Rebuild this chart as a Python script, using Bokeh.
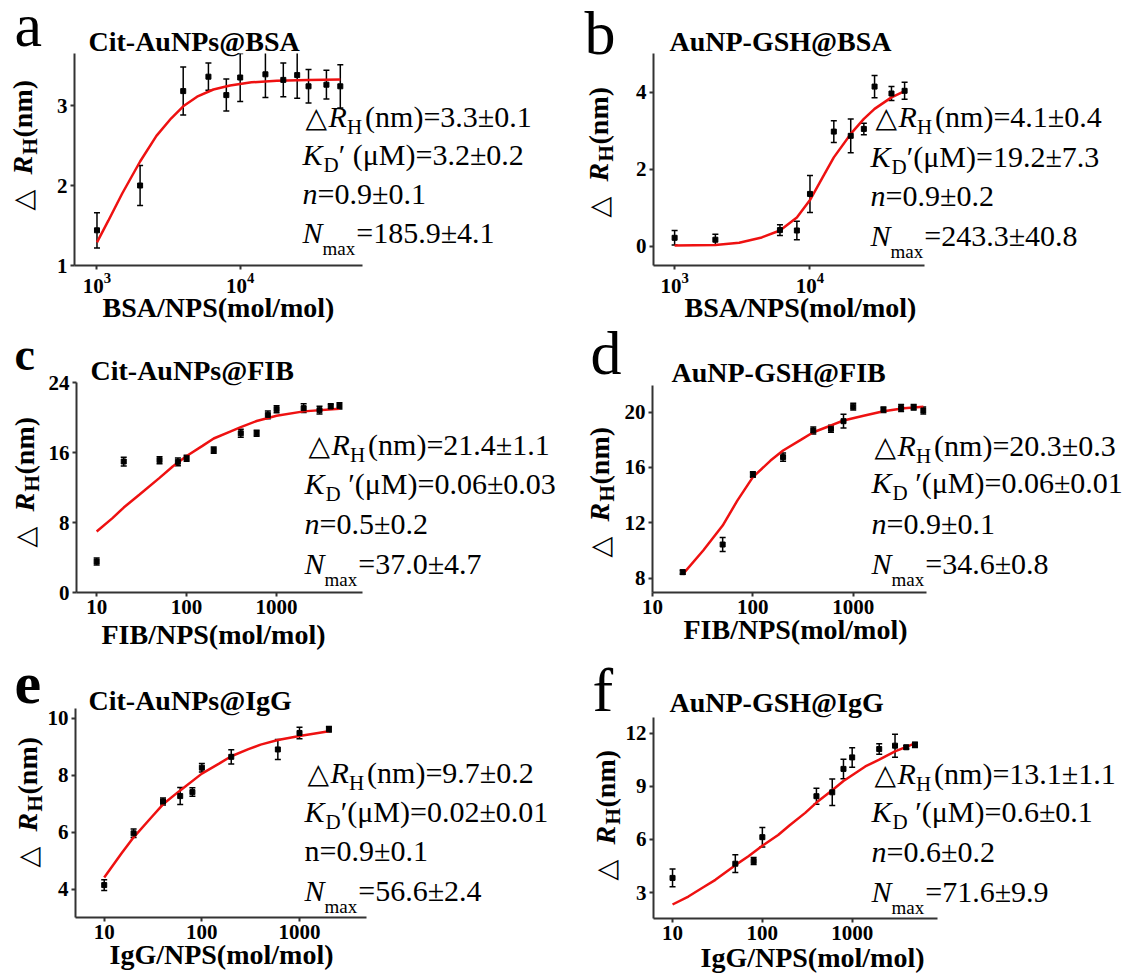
import math
from bokeh.plotting import figure
from bokeh.models import Range1d, FixedTicker, Label, Whisker, TeeHead, ColumnDataSource
from bokeh.layouts import column
from bokeh.embed import file_html
from bokeh.resources import INLINE

SERIF = "Liberation Serif"
SYM = "DejaVu Sans"

# ---------------- data ----------------
letters = ["a", "b", "c", "d", "e", "f"]
titles = ["Cit-AuNPs@BSA", "AuNP-GSH@BSA", "Cit-AuNPs@FIB",
          "AuNP-GSH@FIB", "Cit-AuNPs@IgG", "AuNP-GSH@IgG"]
x_titles = ["BSA/NPS(mol/mol)", "BSA/NPS(mol/mol)", "FIB/NPS(mol/mol)",
            "FIB/NPS(mol/mol)", "IgG/NPS(mol/mol)", "IgG/NPS(mol/mol)"]

rh_text = ["(nm)=3.3±0.1", "(nm)=4.1±0.4", "(nm)=21.4±1.1",
           "(nm)=20.3±0.3", "(nm)=9.7±0.2", "(nm)=13.1±1.1"]
kd_text = ["′ (μM)=3.2±0.2", "′(μM)=19.2±7.3", "\u00a0′(μM)=0.06±0.03",
           "\u00a0′(μM)=0.06±0.01", "′(μM)=0.02±0.01", "\u00a0′(μM)=0.6±0.1"]
n_text = ["=0.9±0.1", "=0.9±0.2", "=0.5±0.2", "=0.9±0.1", "=0.9±0.1", "=0.6±0.2"]
n_italic = [True, True, True, True, False, True]
nmax_text = ["=185.9±4.1", "=243.3±40.8", "=37.0±4.7", "=34.6±0.8", "=56.6±2.4", "=71.6±9.9"]

# panel a: Cit-AuNPs@BSA
a_x = [1000, 2000, 4000, 6000, 8000, 10000, 15000, 20000, 25000, 30000, 40000, 50000]
a_y = [1.44, 2.00, 3.18, 3.36, 3.13, 3.35, 3.39, 3.32, 3.38, 3.24, 3.26, 3.24]
a_err = [0.22, 0.25, 0.30, 0.17, 0.20, 0.30, 0.29, 0.21, 0.29, 0.21, 0.18, 0.27]
a_fit_x = [1000, 1200, 1500, 2000, 2600, 3300, 4000, 5000, 6500, 8500, 12000, 18000, 30000, 50000]
a_fit_y = [1.29, 1.56, 1.90, 2.30, 2.62, 2.84, 2.99, 3.11, 3.20, 3.25, 3.29, 3.31, 3.32, 3.325]

# panel b: AuNP-GSH@BSA
b_x = [1000, 2000, 6000, 8000, 10000, 15000, 20000, 25000, 30000, 40000, 50000]
b_y = [0.22, 0.17, 0.42, 0.41, 1.36, 2.98, 2.87, 3.05, 4.15, 3.97, 4.04]
b_err = [0.19, 0.14, 0.14, 0.24, 0.48, 0.28, 0.44, 0.15, 0.29, 0.18, 0.22]
b_fit_x = [1000, 2000, 3000, 4400, 6000, 8000, 10000, 12400, 15000, 20000, 25000, 30000, 40000, 50000]
b_fit_y = [0.02, 0.035, 0.09, 0.23, 0.41, 0.75, 1.20, 1.79, 2.31, 2.92, 3.31, 3.57, 3.87, 4.03]

# panel c: Cit-AuNPs@FIB
c_x = [10, 20, 50, 80, 100, 200, 400, 600, 800, 1000, 2000, 3000, 4000, 5000]
c_y = [3.54, 14.97, 15.12, 14.93, 15.35, 16.27, 18.2, 18.2, 20.3, 20.95, 21.07, 20.84, 21.26, 21.33]
c_err = [0.4, 0.5, 0.4, 0.45, 0.35, 0.35, 0.45, 0.35, 0.45, 0.4, 0.5, 0.45, 0.3, 0.35]
c_fit_x = [10, 15, 20, 30, 50, 70, 100, 150, 200, 300, 400, 600, 1000, 2000, 5000]
c_fit_y = [6.97, 8.5, 9.71, 11.2, 13.1, 14.4, 15.6, 16.76, 17.6, 18.36, 18.9, 19.6, 20.2, 20.7, 21.0]

# panel d: AuNP-GSH@FIB
d_x = [20, 50, 100, 200, 400, 600, 800, 1000, 2000, 3000, 4000, 5000]
d_y = [8.43, 10.43, 15.49, 16.75, 18.67, 18.8, 19.35, 20.4, 20.17, 20.3, 20.36, 20.12]
d_err = [0.15, 0.5, 0.2, 0.3, 0.25, 0.25, 0.5, 0.25, 0.2, 0.25, 0.2, 0.25]
d_fit_x = [20, 32, 50, 70, 100, 150, 200, 300, 400, 600, 800, 1300, 2000, 3200, 5000]
d_fit_y = [8.27, 10.0, 11.8, 13.6, 15.3, 16.5, 17.23, 18.0, 18.55, 19.04, 19.4, 19.76, 20.07, 20.29, 20.4]

# panel e: Cit-AuNPs@IgG
e_x = [10, 20, 40, 60, 80, 100, 200, 600, 1000, 2000]
e_y = [4.14, 5.96, 7.08, 7.27, 7.41, 8.27, 8.65, 8.91, 9.49, 9.62]
e_err = [0.19, 0.15, 0.12, 0.3, 0.15, 0.15, 0.25, 0.35, 0.2, 0.1]
e_fit_x = [10, 15, 20, 30, 40, 60, 100, 150, 200, 300, 400, 600, 1000, 2000]
e_fit_y = [4.41, 5.25, 5.82, 6.50, 6.98, 7.47, 8.06, 8.41, 8.67, 8.92, 9.08, 9.24, 9.38, 9.55]

# panel f: AuNP-GSH@IgG
f_x = [10, 50, 80, 100, 400, 600, 800, 1000, 2000, 3000, 4000, 5000]
f_y = [3.83, 4.63, 4.78, 6.13, 8.44, 8.66, 9.98, 10.63, 11.1, 11.29, 11.2, 11.34]
f_err = [0.5, 0.5, 0.2, 0.55, 0.45, 0.75, 0.55, 0.55, 0.3, 0.65, 0.1, 0.15]
f_fit_x = [10, 15, 22, 30, 50, 70, 100, 150, 200, 300, 400, 600, 800, 1400, 2000, 3000, 5000]
f_fit_y = [2.33, 2.78, 3.30, 3.72, 4.55, 5.05, 5.64, 6.25, 6.79, 7.50, 8.08, 8.78, 9.30, 10.12, 10.50, 10.97, 11.42]

series = [(a_x, a_y, a_err, a_fit_x, a_fit_y), (b_x, b_y, b_err, b_fit_x, b_fit_y),
          (c_x, c_y, c_err, c_fit_x, c_fit_y), (d_x, d_y, d_err, d_fit_x, d_fit_y),
          (e_x, e_y, e_err, e_fit_x, e_fit_y), (f_x, f_y, f_err, f_fit_x, f_fit_y)]

x_ticks = [[1000, 10000], [1000, 10000], [10, 100, 1000], [10, 100, 1000], [10, 100, 1000], [10, 100, 1000]]
y_ticks = [[1, 2, 3], [0, 2, 4], [0, 8, 16, 24], [8, 12, 16, 20], [4, 6, 8, 10], [3, 6, 9, 12]]

# ---------------- layout (page pixel positions) ----------------
PAGE_W, PAGE_H = 1124, 974
BASE_K = 0.41   # baseline correction (fraction of font size)

CFG = [
    dict(frame=(74, 362, 53, 265), xr=(2.843, 4.854), yr=(1.0, 3.65), expo=True,
         letter=(14, 50, 62, "normal"), title=(88, 52), xtitle=(218, 318), ytitle=(33, 210),
         block=(305, 302, [128, 166, 205, 244])),
    dict(frame=(653, 924, 53, 265), xr=(2.844, 4.846), yr=(-0.5, 5.01), expo=True,
         letter=(584, 58, 62, "normal"), title=(669, 52), xtitle=(800, 318), ytitle=(609, 217),
         block=(875, 870, [128, 168, 207, 247])),
    dict(frame=(76, 362, 382, 592), xr=(0.776, 3.955), yr=(0.0, 24.0), expo=False,
         letter=(14, 373, 46, "bold"), title=(90, 381), xtitle=(213, 645), ytitle=(35, 547),
         block=(308, 304, [456, 495, 535, 575])),
    dict(frame=(652, 926, 385, 592), xr=(1.0, 3.73), yr=(6.96, 21.93), expo=False,
         letter=(590, 378, 62, "normal"), title=(671, 383), xtitle=(795, 640), ytitle=(610, 557),
         block=(874, 871, [457, 494, 535, 575])),
    dict(frame=(75, 366, 708, 917), xr=(0.706, 3.686), yr=(3.0, 10.35), expo=False,
         letter=(14, 708, 60, "bold"), title=(88, 711), xtitle=(221, 965), ytitle=(38, 867),
         block=(307, 304, [784, 823, 862, 902])),
    dict(frame=(653, 937, 717, 918), xr=(0.788, 3.95), yr=(1.54, 12.88), expo=False,
         letter=(592, 715, 62, "normal"), title=(669, 713), xtitle=(812, 968), ytitle=(616, 880),
         block=(874, 871, [785, 823, 863, 903])),
]

EM = {"tri": 0.77, "R": 0.611, "H": 0.722, "K": 0.667, "D": 0.722, "n": 0.5, "N": 0.667, "max": 1.722}
MAIN = 30
SUB = 21
SUBM = 19
AXC = "#333333"


def no_align(p):
    try:
        p.frame_align = False
    except Exception:
        pass


def transparent(p):
    p.outline_line_color = None
    p.background_fill_alpha = 0
    p.border_fill_alpha = 0


def make_panel(i):
    cfg = CFG[i]
    xs, ys, es, fx, fy = series[i]
    fl, fr, ft, fb = cfg["frame"]
    p = figure(title=None, x_axis_type="log",
               x_range=Range1d(10 ** cfg["xr"][0], 10 ** cfg["xr"][1]),
               y_range=Range1d(*cfg["yr"]),
               width=PAGE_W, height=PAGE_H,
               min_border_left=fl, min_border_right=PAGE_W - fr,
               min_border_top=ft, min_border_bottom=PAGE_H - fb,
               output_backend="svg", toolbar_location=None, tools="")
    no_align(p)
    transparent(p)
    p.grid.visible = False
    for ax in (p.xaxis[0], p.yaxis[0]):
        ax.axis_line_width = 2
        ax.axis_line_color = AXC
        ax.major_tick_line_color = AXC
        ax.major_tick_line_width = 2
        ax.major_tick_out = 4
        ax.major_tick_in = 0
        ax.minor_tick_line_color = None
        ax.major_label_text_font = SERIF
        ax.major_label_text_font_style = "bold"
        ax.major_label_text_font_size = "21px"
        ax.major_label_text_color = "black"
        ax.major_label_standoff = 3
    p.xaxis.ticker = FixedTicker(ticks=x_ticks[i])
    p.yaxis.ticker = FixedTicker(ticks=y_ticks[i])
    if not cfg["expo"]:
        p.xaxis.major_label_overrides = {t: str(t) for t in x_ticks[i]}

    p.line(fx, fy, line_color="#ee1111", line_width=2.5)
    src = ColumnDataSource(dict(x=xs, y=ys,
                                upper=[y + e for y, e in zip(ys, es)],
                                lower=[y - e for y, e in zip(ys, es)]))
    p.add_layout(Whisker(base="x", upper="upper", lower="lower", source=src,
                         line_color="black", line_width=1.5,
                         upper_head=TeeHead(size=6, line_color="black", line_width=1.5),
                         lower_head=TeeHead(size=6, line_color="black", line_width=1.5)))
    p.scatter("x", "y", source=src, marker="square", size=5, color="black")
    return p


# ---------------- text overlay (one transparent figure over the whole page) ----------------
ov = figure(width=PAGE_W, height=PAGE_H, x_range=Range1d(0, PAGE_W), y_range=Range1d(0, PAGE_H),
            min_border=0, x_axis_location=None, y_axis_location=None, title=None,
            output_backend="svg", toolbar_location=None, tools="")
no_align(ov)
ov.grid.visible = False
transparent(ov)


def lab(px, py, text, size, style="normal", align="left", angle=0.0, font=SERIF):
    # px, py: page position of the text baseline start
    if angle == 0.0:
        py = py - BASE_K * size
    else:
        px = px - BASE_K * size
    ov.add_layout(Label(x=px, y=PAGE_H - py, x_units="screen", y_units="screen",
                        text=text, text_font=font, text_font_size=f"{size}px",
                        text_font_style=style, text_align=align, text_baseline="alphabetic",
                        angle=angle, text_color="black"))


for i in range(6):
    cfg = CFG[i]
    lx, lb, ls, lst = cfg["letter"]
    lab(lx, lb, letters[i], ls, style=lst)
    tx, tb = cfg["title"]
    lab(tx, tb, titles[i], 28, style="bold")
    xx, xb = cfg["xtitle"]
    lab(xx, xb, x_titles[i], 28, style="bold", align="center")
    # rotated y title
    bx, y0 = cfg["ytitle"]
    ang = math.pi / 2
    lab(bx, y0, "△", 27, angle=ang, font=SYM)
    yy = y0 - 36
    lab(bx, yy, "R", 28, style="bold italic", angle=ang)
    yy -= 20
    lab(bx + 5, yy, "H", 21, style="bold", angle=ang)
    yy -= 17
    lab(bx, yy, "(nm)", 28, style="bold", angle=ang)
    # parameter block
    x1, x2, bl = cfg["block"]
    x = x1
    lab(x, bl[0], "△", 28, font=SYM)
    x += EM["tri"] * MAIN
    lab(x, bl[0], "R", MAIN, style="italic")
    x += EM["R"] * MAIN
    lab(x, bl[0] + 7, "H", SUB)
    x += EM["H"] * SUB + 3
    lab(x, bl[0], rh_text[i], MAIN)
    x = x2
    lab(x, bl[1], "K", MAIN, style="italic")
    x += EM["K"] * MAIN + 1
    lab(x, bl[1] + 7, "D", SUB)
    x += EM["D"] * SUB
    lab(x, bl[1], kd_text[i], MAIN)
    x = x2
    lab(x, bl[2], "n", MAIN, style="italic" if n_italic[i] else "normal")
    x += EM["n"] * MAIN
    lab(x, bl[2], n_text[i], MAIN)
    x = x2
    lab(x, bl[3], "N", MAIN, style="italic")
    x += EM["N"] * MAIN
    lab(x, bl[3] + 12, "max", SUBM)
    x += EM["max"] * SUBM + 1
    lab(x, bl[3], nmax_text[i], MAIN)

panels = [make_panel(i) for i in range(6)]
layers = [column(fig) for fig in panels + [ov]]
for layer in layers[1:]:
    layer.margin = (-PAGE_H, 0, 0, 0)

page = column(*layers)
open("out.html", "w").write(file_html(page, INLINE))
